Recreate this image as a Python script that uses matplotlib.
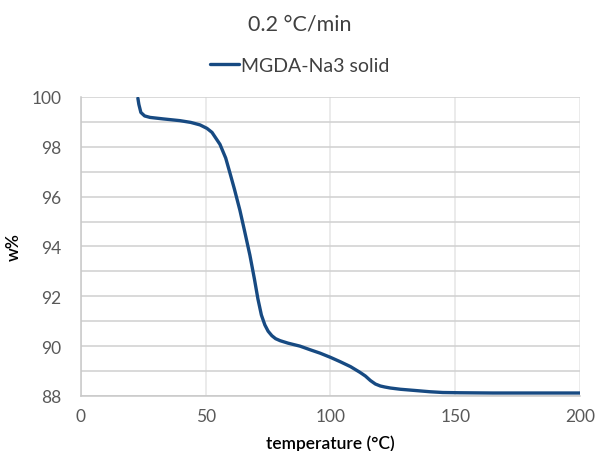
import numpy as np
import matplotlib.pyplot as plt
from matplotlib.ticker import MultipleLocator

# TGA trace, MGDA-Na3 solid, 0.2 °C/min
temperature = [22.8, 23.2, 24.0, 25.5, 27.7, 33.0, 39.7, 44.0, 47.7, 50.5, 52.5,
               55.7, 58.0, 59.7, 61.5, 63.7, 65.5, 67.7, 69.5, 70.9, 72.3, 73.7,
               75.0, 76.5, 78.0, 79.8, 83.0, 87.8, 92.0, 95.8, 100.0, 103.8,
               108.0, 111.8, 114.0, 116.0, 118.0, 120.0, 121.8, 124.0, 128.0,
               134.0, 139.9, 145.0, 151.9, 165.0, 180.0, 200.0]
weight_pct = [99.95, 99.70, 99.38, 99.24, 99.18, 99.12, 99.05, 98.98, 98.88, 98.74, 98.58,
              98.10, 97.55, 96.95, 96.30, 95.45, 94.65, 93.65, 92.70, 91.90, 91.25, 90.85,
              90.60, 90.42, 90.30, 90.22, 90.12, 90.00, 89.85, 89.72, 89.55, 89.38,
              89.18, 88.95, 88.80, 88.62, 88.48, 88.40, 88.36, 88.32, 88.27,
              88.22, 88.17, 88.14, 88.13, 88.12, 88.12, 88.12]

plt.rcParams['font.family'] = ['Lato', 'DejaVu Sans']

fig = plt.figure(figsize=(5.99, 4.52), dpi=100)
ax = fig.add_axes([0.1352, 0.1217, 0.8331, 0.6615])

ax.plot(temperature, weight_pct, color='#174a82', lw=2.4, solid_capstyle='round',
        label='MGDA-Na3 solid', zorder=3)

ax.set_xlim(0, 200)
ax.set_ylim(88, 100)
ax.xaxis.set_major_locator(MultipleLocator(50))
ax.yaxis.set_major_locator(MultipleLocator(2))
ax.yaxis.set_minor_locator(MultipleLocator(1))
ax.grid(axis='y', which='both', color='#d0d0d0', lw=1.1)
ax.grid(axis='x', which='major', color='#e6e6e6', lw=1.1)
ax.set_axisbelow(True)
ax.tick_params(which='both', length=0, labelsize=12.5, labelcolor='#595959')
ax.tick_params(axis='y', pad=14)
ax.tick_params(axis='x', pad=9)

for s in ['top', 'right']:
    ax.spines[s].set_visible(False)
for s in ['left', 'bottom']:
    ax.spines[s].set_color('#c8c8c8')
    ax.spines[s].set_linewidth(1.1)

ax.set_xlabel('temperature (°C)', fontsize=12.5, color='#000000', fontweight='semibold')
ax.xaxis.set_label_coords(0.5, -0.13)
ax.set_ylabel('w%', fontsize=12.5, color='#000000', fontweight='semibold')
ax.yaxis.set_label_coords(-0.118, 0.5)

fig.text(0.5, 0.946, '0.2 °C/min', ha='center', va='center', fontsize=15.5,
         color='#404040')
fig.legend(loc='center', bbox_to_anchor=(0.5, 0.853), frameon=False, fontsize=14,
           handlelength=1.5, handletextpad=0.1, labelcolor='#404040')

fig.savefig('out.png', dpi=100)
